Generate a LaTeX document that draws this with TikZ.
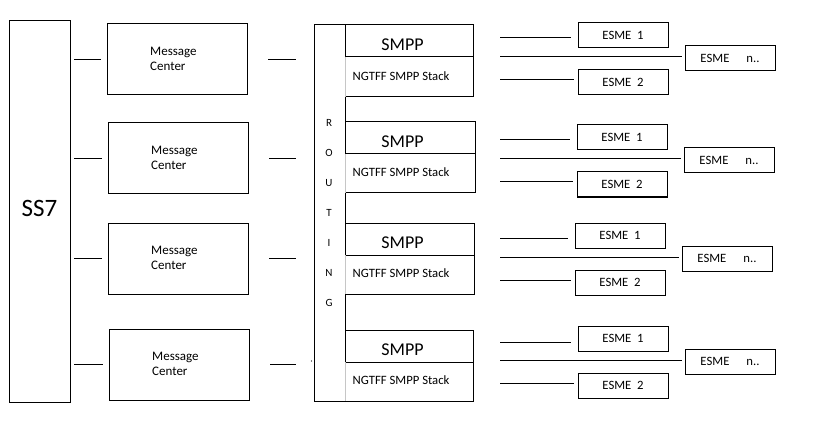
\documentclass[tikz,border=0pt]{standalone}
\usepackage{fontspec}
\setmainfont{Carlito}
\usetikzlibrary{calc}
\begin{document}
\begin{tikzpicture}[x=1pt,y=-1pt,
  box/.style={draw, line width=1pt, inner sep=0pt, outer sep=0pt},
  ln/.style={line width=1pt},
  small/.style={font=\fontsize{12.7}{15}\selectfont},
  mctext/.style={font=\fontsize{13}{15.5}\selectfont, align=left, anchor=west, inner sep=0pt},
  big/.style={font=\fontsize{18}{21}\selectfont, inner sep=0pt},
  letter/.style={font=\fontsize{11}{13}\selectfont, inner sep=0pt},
]
\useasboundingbox (0,0) rectangle (825,433);

% SS7
\node[box, minimum width=61, minimum height=381, anchor=north west] (ss7) at (9,21) {};
\node[font=\fontsize{25}{30}\selectfont, inner sep=0pt] (ss7t) at (39.5,208.7) {SS7};

% Routing column
\node[box, minimum width=31, minimum height=376, anchor=north west] (rt) at (314,25) {};
\foreach \l [count=\k] in {R,O,U,T,I,N,G}
  \node[letter] (rt\k) at (329,{93+30*\k}) {\l};

\foreach \i/\mx/\mt/\sr/\st/\sm/\sb/\ex/\ea/\nx/\nt/\eb/\dy in {
 1/107/24/473/25/57/97/578/23/685/46/70/2.5,
 2/108/123/475/122/154/193/577/125/684/148/172/2.5,
 3/108/223/474/223/255/294/575/223/682/246/270/2.5,
 4/109/329/473/330/362/401/578/326/685/349/373/3.5}
{
  % message center
  \node[box, minimum width=140, minimum height=71, anchor=north west] (mc\i) at (\mx,\mt) {};
  \node[mctext] (mct\i) at ({\mx+43},{\mt+35}) {Message\\Center};
  \draw[ln, shorten <=4pt, shorten >=6pt] (ss7.east |- mc\i.west) -- (mc\i.west);
  \draw[ln, shorten <=21pt, shorten >=18pt] (mc\i.east) -- (rt.west |- mc\i.east);

  % SMPP + stack
  \node[box, minimum width={\sr-345}, minimum height={\sm-\st}, anchor=north west] (sm\i) at (345,\st) {};
  \node[big] (smt\i) at (402.5,{\st+19.5}) {SMPP};
  \node[inner sep=0pt, outer sep=0pt, minimum width={\sr-345}, minimum height={\sb-\sm}, anchor=north west] (sk\i) at (345,\sm) {};
  \draw[ln] (sk\i.north east) -- (sk\i.south east) -- (sk\i.south west);
  \draw[line width=1pt, gray!45] (sk\i.north west) -- (sk\i.south west);
  \node[small, inner sep=0pt, anchor=west] (skt\i) at (352.5,{(\sm+\sb)/2-1}) {NGTFF SMPP Stack};

  % ESMEs
  \node[box, small, minimum width=90, minimum height=25, anchor=north west] (ea\i) at (\ex,\ea) {ESME\ \ 1};
  \node[box, small, minimum width=90, minimum height=25, anchor=north west] (en\i) at (\nx,\nt) {ESME\hspace{17pt}n..};
  \node[box, small, minimum width=90, minimum height=25, anchor=north west] (eb\i) at (\ex,\eb) {ESME\ \ 2};

  \draw[ln] ($(sm\i.east |- ea\i.west)+({500-\sr},\dy)$) -- ($(ea\i.west)+(-7,\dy)$);
  \draw[ln] ($(sm\i.east |- en\i.west)+({500-\sr},-1.5)$) -- ($(en\i.west)+(-3,-1.5)$);
  \draw[ln] ($(sm\i.east |- eb\i.west)+({500-\sr},-2.5)$) -- ($(eb\i.west)+(-4,-2.5)$);
}

% stray dot
\fill (311.5,361) circle (0.6);
\end{tikzpicture}
\end{document}
